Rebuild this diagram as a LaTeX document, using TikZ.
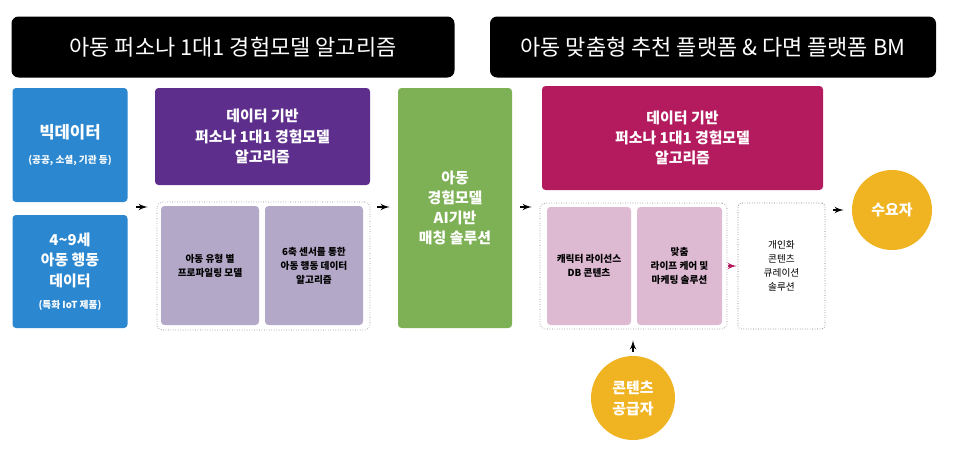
\documentclass[tikz,border=0pt]{standalone}
\usepackage{fontspec}
\setmainfont{Noto Sans CJK KR}
\usetikzlibrary{shapes,arrows,positioning}
\definecolor{bigblue}{RGB}{43,135,207}
\definecolor{persona}{RGB}{93,46,140}
\definecolor{lavender}{RGB}{180,168,200}
\definecolor{aigreen}{RGB}{126,177,85}
\definecolor{platform}{RGB}{180,27,94}
\definecolor{pinkish}{RGB}{221,185,210}
\definecolor{gold}{RGB}{240,180,35}
\newdimen\pxu \pxu=0.02cm
\tikzstyle{header} = [rectangle, fill=black, text=white, rounded corners=4pt,
    minimum height=61\pxu, inner sep=0pt, font=\fontsize{12.5}{14}\selectfont]
\tikzstyle{block} = [rectangle, rounded corners=2pt, text=white, align=center,
    inner sep=0pt, font=\fontsize{8.5}{11.5}\selectfont\bfseries]
\tikzstyle{subblock} = [rectangle, rounded corners=2pt, align=center,
    inner sep=0pt, font=\fontsize{5.5}{8}\selectfont\bfseries]
\tikzstyle{group} = [rectangle, draw=black!45, densely dotted, rounded corners=3pt, inner sep=0pt]
\tikzstyle{actor} = [circle, fill=gold, text=white, align=center, inner sep=0pt,
    font=\fontsize{8.5}{12}\selectfont\bfseries]
\tikzstyle{line} = [draw, -latex', line width=0.8pt]

\begin{document}
\begin{tikzpicture}[x=0.02cm, y=-0.02cm]
        \useasboundingbox (0,0) rectangle (964,453);
        % Place nodes
        \node [header, minimum width=443\pxu] (hdrA) at (233,47) {아동 퍼소나 1대1 경험모델 알고리즘};
        \node [header, minimum width=446\pxu] (hdrB) at (713,47) {아동 맞춤형 추천 플랫폼 \& 다면 플랫폼 BM};
        \node [block, fill=bigblue, minimum width=115\pxu, minimum height=114\pxu] (big) at (70,145)
            {{\fontsize{9.5}{12}\selectfont 빅데이터}\\[3pt]{\fontsize{5.5}{7}\selectfont (공공, 소셜, 기관 등)}};
        \node [block, fill=bigblue, minimum width=115\pxu, minimum height=113\pxu] (kids) at (70,271.5)
            {4\textasciitilde9세\\아동 행동\\데이터\\[1pt]{\fontsize{5.5}{7}\selectfont (특화 IoT 제품)}};
        \node [block, fill=persona, minimum width=215\pxu, minimum height=97\pxu] (algo) at (262.5,136.5)
            {데이터 기반\\퍼소나 1대1 경험모델\\알고리즘};
        \node [group, minimum width=213\pxu, minimum height=128\pxu] (grpA) at (263.5,266) {};
        \node [subblock, fill=lavender, minimum width=98\pxu, minimum height=119\pxu] (profile) at (210,265.5)
            {아동 유형 별\\프로파일링 모델};
        \node [subblock, fill=lavender, minimum width=98\pxu, minimum height=119\pxu] (sensor) at (314,265.5)
            {6축 센서를 통한\\아동 행동 데이터\\알고리즘};
        \node [block, fill=aigreen, minimum width=114\pxu, minimum height=240\pxu] (match) at (455,208)
            {아동\\경험모델\\AI기반\\매칭 솔루션};
        \node [block, fill=platform, minimum width=281\pxu, minimum height=104\pxu] (algoB) at (682.5,138)
            {데이터 기반\\퍼소나 1대1 경험모델\\알고리즘};
        \node [group, minimum width=187\pxu, minimum height=126\pxu] (grpB) at (633.5,266) {};
        \node [subblock, fill=pinkish, minimum width=84\pxu, minimum height=118\pxu] (chara) at (589,266)
            {캐릭터 라이선스\\DB 콘텐츠};
        \node [subblock, fill=pinkish, minimum width=85\pxu, minimum height=118\pxu] (care) at (679.5,266)
            {맞춤\\라이프 케어 및\\마케팅 솔루션};
        \node [subblock, draw=black!55, densely dotted, minimum width=87\pxu, minimum height=126\pxu,
            font=\fontsize{5.5}{8}\selectfont] (curate) at (781.5,266)
            {개인화\\콘텐츠\\큐레이션\\솔루션};
        \node [actor, minimum size=80\pxu] (demand) at (892,210) {수요자};
        \node [actor, minimum size=84\pxu] (supplier) at (633,398) {콘텐츠\\공급자};
        \coordinate (rowA) at (0,207);
        % Draw edges
        \path [line, shorten <=8\pxu, shorten >=9\pxu] (big.east |- rowA) -- (grpA.west |- rowA);
        \path [line, shorten <=7\pxu, shorten >=8\pxu] (grpA.east |- rowA) -- (match.west |- rowA);
        \path [line, shorten <=8\pxu, shorten >=8\pxu] (match.east |- rowA) -- (grpB.west |- rowA);
        \path [line, draw=platform, shorten <=1\pxu, shorten >=1\pxu] (grpB.east) -- (curate.west);
        \path [line, shorten <=8\pxu, shorten >=8\pxu] (curate.east |- demand) -- (demand.west);
        \path [line, shorten <=4\pxu, shorten >=11\pxu] (supplier.north) -- (grpB.south -| supplier);
    \end{tikzpicture}
\end{document}
